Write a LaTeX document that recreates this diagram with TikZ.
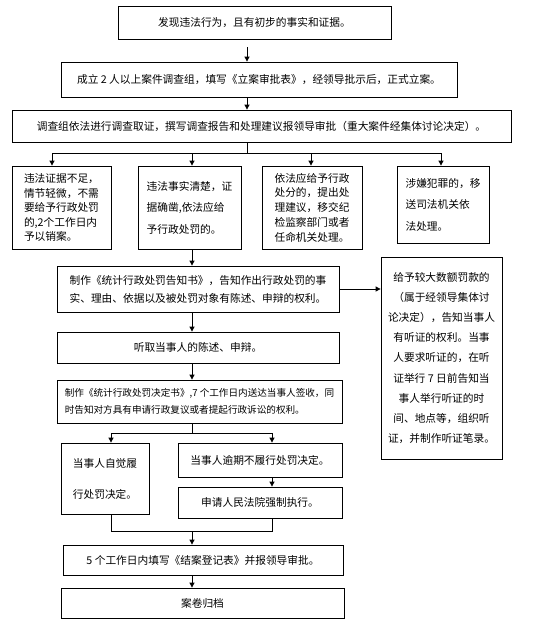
\documentclass[tikz,border=0pt]{standalone}
\usepackage{fontspec}
\setmainfont{Noto Sans CJK SC}
\usetikzlibrary{arrows.meta}
\begin{document}
\begin{tikzpicture}[x=1pt,y=-1pt,
  box/.style={draw, line width=0.8pt, inner sep=0pt, align=center, font={\fontsize{10.7}{18}\selectfont}},
  arr/.style={-{Triangle[length=5pt,width=5pt]}, line width=0.8pt},
  ln/.style={line width=0.8pt}]
\useasboundingbox (0,0) rectangle (536,619);

% boxes
\node[box, minimum width=273pt, minimum height=33pt] (b1) at (254.5,22.5) {发现违法行为，且有初步的事实和证据。};
\node[box, minimum width=396pt, minimum height=35pt] (b2) at (259,79.5) {成立 2 人以上案件调查组，填写《立案审批表》，经领导批示后，正式立案。};
\node[box, minimum width=499pt, minimum height=32pt] (b3) at (261.5,126) {调查组依法进行调查取证，撰写调查报告和处理建议报领导审批（重大案件经集体讨论决定）。};
\node[box, align=left, font={\fontsize{10.7}{14.5}\selectfont}, minimum width=99pt, minimum height=83pt] (bA) at (61.5,207.5) {违法证据不足，\\情节轻微，不需\\要给予行政处罚\\的,2个工作日内\\予以销案。};
\node[box, align=left, font={\fontsize{10.7}{21.5}\selectfont}, minimum width=103pt, minimum height=83pt] (bB) at (189.5,207.5) {违法事实清楚，证\\据确凿,依法应给\\予行政处罚的。};
\node[box, align=left, font={\fontsize{10.7}{14.7}\selectfont}, minimum width=100pt, minimum height=83pt] (bC) at (312,207.5) {依法应给予行政\\处分的，提出处\\理建议，移交纪\\检监察部门或者\\任命机关处理。};
\node[box, align=left, font={\fontsize{10.7}{21.5}\selectfont}, minimum width=92pt, minimum height=77pt] (bD) at (443,204.5) {涉嫌犯罪的，移\\送司法机关依\\法处理。};
\node[box, font={\fontsize{10.7}{18}\selectfont}, minimum width=282pt, minimum height=46pt] (b4) at (198,289) {制作《统计行政处罚告知书》，告知作出行政处罚的事\\实、理由、依据以及被处罚对象有陈述、申辩的权利。};
\node[box, font={\fontsize{10.7}{20.2}\selectfont}, minimum width=121pt, minimum height=202pt] (bR) at (441.5,358) {给予较大数额罚款的\\（属于经领导集体讨\\论决定），告知当事人\\有听证的权利。当事\\人要求听证的，在听\\证举行 7 日前告知当\\事人举行听证的时\\间、地点等，组织听\\证，并制作听证笔录。};
\node[box, minimum width=282pt, minimum height=31pt] (b5) at (198,347.5) {\raisebox{-3pt}{听取当事人的陈述、申辩。}};
\node[box, align=left, font={\fontsize{9.6}{17}\selectfont}, minimum width=285pt, minimum height=43pt] (b6) at (199.5,401.5) {制作《统计行政处罚决定书》,7 个工作日内送达当事人签收，同\\时告知对方具有申请行政复议或者提起行政诉讼的权利。};
\node[box, font={\fontsize{10.7}{31}\selectfont}, minimum width=88pt, minimum height=71pt] (b7) at (105,478.5) {当事人自觉履\\行处罚决定。};
\node[box, minimum width=164pt, minimum height=34pt] (b8) at (260,460) {当事人逾期不履行处罚决定。};
\node[box, minimum width=164pt, minimum height=31pt] (b9) at (260,502.5) {申请人民法院强制执行。};
\node[box, minimum width=280pt, minimum height=30pt] (b10) at (203,560) {\raisebox{-4pt}{5 个工作日内填写《结案登记表》并报领导审批。}};
\node[box, minimum width=283pt, minimum height=30pt] (b11) at (202.5,603) {\raisebox{-4pt}{案卷归档}};

% helper coordinates
\coordinate (t1) at (247,0);
\coordinate (j1) at (247,153);
\coordinate (jA) at (52,153);
\coordinate (jB) at (192,153);
\coordinate (jC) at (311,153);
\coordinate (jD) at (441,153);
\coordinate (t2) at (192,0);
\coordinate (j2) at (192,433);
\coordinate (j2a) at (111,433);
\coordinate (j2b) at (272,433);
\coordinate (j3a) at (111,531);
\coordinate (j3b) at (272,531);
\coordinate (j3) at (192,531);

% connectors
\draw[arr, shorten <=8pt] (b1.south -| t1) -- (b2.north -| t1);
\draw[arr] (b2.south -| t1) -- (b3.north -| t1);
\draw[ln] (b3.south -| t1) -- (j1);
\draw[ln] (jA) -- (jD);
\draw[arr] (jA) -- (bA.north -| jA);
\draw[arr] (jB) -- (bB.north -| jB);
\draw[arr] (jC) -- (bC.north -| jC);
\draw[arr] (jD) -- (bD.north -| jD);
\draw[arr] (bB.south -| t2) -- (b4.north -| t2);
\draw[arr] (b4.east) -- (b4.east -| bR.west);
\draw[arr] (b4.south -| t2) -- (b5.north -| t2);
\draw[arr] (b5.south -| t2) -- (b6.north -| t2);
\draw[ln] (b6.south -| t2) -- (j2);
\draw[ln] (j2a) -- (j2b);
\draw[arr] (j2a) -- (b7.north -| j2a);
\draw[arr] (j2b) -- (b8.north -| j2b);
\draw[arr] (b8.south -| j2b) -- (b9.north -| j2b);
\draw[ln] (b7.south -| j3a) -- (j3a) -- (j3b) -- (b9.south -| j3b);
\draw[arr] (j3) -- (b10.north -| j3);
\draw[arr] (b10.south -| j3) -- (b11.north -| j3);
\end{tikzpicture}
\end{document}
